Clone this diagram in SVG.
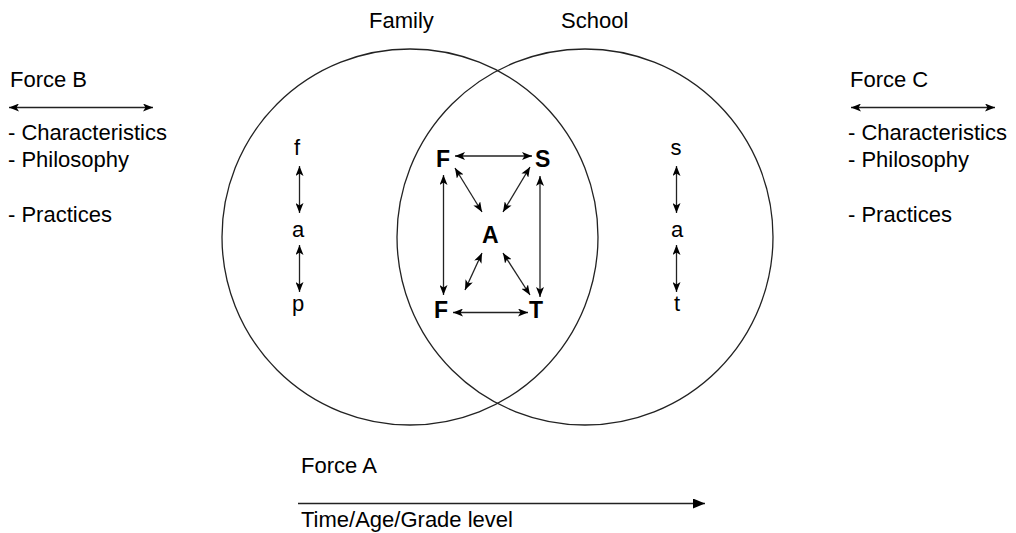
<svg xmlns="http://www.w3.org/2000/svg" width="1016" height="533" viewBox="0 0 1016 533">
<style>
text{font-family:"Liberation Sans",Arial,sans-serif;font-size:22px;fill:#000}
.b{font-weight:bold;font-size:23px}
.c{fill:none;stroke:#222;stroke-width:1.3}
.a{fill:none;stroke:#222;stroke-width:1.3;marker-end:url(#ah);marker-start:url(#ah)}
.s{fill:none;stroke:#222;stroke-width:1.3;marker-end:url(#ah2)}
</style>
<defs>
<marker id="ah" viewBox="0 0 10 8" refX="10" refY="4" markerWidth="10" markerHeight="8" markerUnits="userSpaceOnUse" orient="auto-start-reverse">
<path d="M0,0 L10,4 L0,8 L2.5,4 z" fill="#000"/>
</marker>
<marker id="ah2" viewBox="0 0 12 10" refX="12" refY="5" markerWidth="12" markerHeight="10" markerUnits="userSpaceOnUse" orient="auto">
<path d="M0,0 L12,5 L0,10 z" fill="#000"/>
</marker>
</defs>
<rect width="1016" height="533" fill="#fff"/>
<g id="family-circle"><circle class="c" cx="410" cy="237" r="188"/><text x="369" y="28">Family</text></g>
<g id="school-circle"><circle class="c" cx="585" cy="237" r="188"/><text x="561" y="28">School</text></g>
<g id="force-b">
<text x="10" y="87">Force B</text>
<text x="8" y="140">- Characteristics</text>
<text x="8" y="167">- Philosophy</text>
<text x="8" y="222">- Practices</text>
</g>
<g id="force-c">
<text x="850" y="87">Force C</text>
<text x="848" y="140">- Characteristics</text>
<text x="848" y="167">- Philosophy</text>
<text x="848" y="222">- Practices</text>
</g>
<g id="force-a">
<text x="301" y="473">Force A</text>
<text x="301" y="527">Time/Age/Grade level</text>
</g>
<g id="fap" text-anchor="middle">
<text x="297" y="155">f</text>
<text x="298" y="237">a</text>
<text x="298" y="311">p</text>
</g>
<g id="sat" text-anchor="middle">
<text x="676" y="155">s</text>
<text x="677" y="237">a</text>
<text x="677" y="311">t</text>
</g>
<g id="node-F-top"><text class="b" x="436" y="167">F</text></g>
<g id="node-S"><text class="b" x="535" y="167">S</text></g>
<g id="node-A"><text class="b" x="482" y="243">A</text></g>
<g id="node-F-bottom"><text class="b" x="434" y="318">F</text></g>
<g id="node-T"><text class="b" x="529" y="318">T</text></g>
<g id="connectors">
<line class="a" x1="9" y1="107.5" x2="153" y2="107.5"/>
<line class="a" x1="851" y1="107.5" x2="995" y2="107.5"/>
<line class="s" x1="298" y1="503.5" x2="705" y2="503.5"/>
<line class="a" x1="299.5" y1="166" x2="299.5" y2="213"/>
<line class="a" x1="299.5" y1="245" x2="299.5" y2="292"/>
<line class="a" x1="676.5" y1="166" x2="676.5" y2="213"/>
<line class="a" x1="676.5" y1="245" x2="676.5" y2="292"/>
<line class="a" x1="455" y1="156" x2="532" y2="156"/>
<line class="a" x1="455" y1="168" x2="482" y2="212"/>
<line class="a" x1="530" y1="167" x2="503" y2="212"/>
<line class="a" x1="443.5" y1="175" x2="443.5" y2="295"/>
<line class="a" x1="540" y1="176" x2="540" y2="297"/>
<line class="a" x1="482" y1="253" x2="465" y2="290"/>
<line class="a" x1="503" y1="253" x2="530" y2="295"/>
<line class="a" x1="453" y1="312.5" x2="528" y2="312.5"/>
</g>
</svg>
